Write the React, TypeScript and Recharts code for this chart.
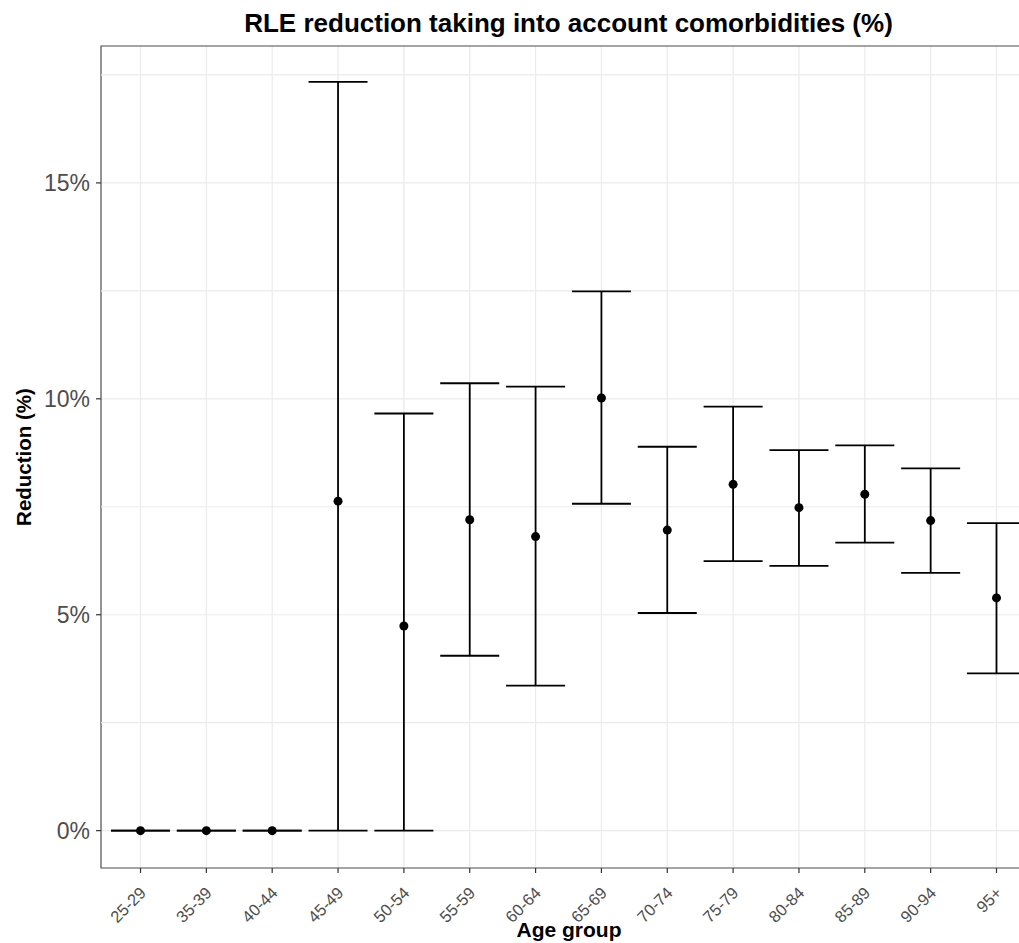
import React from 'react';
import {
  ComposedChart,
  Line,
  XAxis,
  YAxis,
  CartesianGrid,
  ErrorBar,
  ReferenceLine,
  ReferenceArea,
} from 'recharts';

const ageGroups = ['25-29', '35-39', '40-44', '45-49', '50-54', '55-59', '60-64', '65-69', '70-74', '75-79', '80-84', '85-89', '90-94', '95+'];
const estimate = [0, 0, 0, 7.63, 4.74, 7.2, 6.81, 10.02, 6.96, 8.02, 7.48, 7.79, 7.18, 5.39];
const lower = [0, 0, 0, 0, 0, 4.05, 3.36, 7.57, 5.04, 6.24, 6.13, 6.67, 5.97, 3.64];
const upper = [0, 0, 0, 17.34, 9.66, 10.36, 10.28, 12.49, 8.89, 9.82, 8.81, 8.92, 8.39, 7.12];
const yTicks = [0, 5, 10, 15];
const yMinorTicks = [2.5, 7.5, 12.5, 17.5];

const rows = ageGroups.map((g, i) => ({
  idx: i,
  group: g,
  value: estimate[i],
  err: [estimate[i] - lower[i], upper[i] - estimate[i]],
}));

const Y_MIN = -0.865;
const Y_MAX = 18.17;
const X_MIN = -0.6;
const X_MAX = ageGroups.length - 1 + 0.6;
const FONT = '"Liberation Sans", Arial, Helvetica, sans-serif';

const XTick = (props: any) => {
  const { x, y, payload } = props;
  const label = ageGroups[payload.value] ?? '';
  const ax = x + 6.5;
  const ay = y + 19;
  return (
    <text
      x={ax}
      y={ay}
      textAnchor="end"
      transform={`rotate(-45, ${ax}, ${ay})`}
      fontSize={16.5}
      fontFamily={FONT}
      fill="#4d4d4d"
    >
      {label}
    </text>
  );
};

export default function App() {
  return (
    <div
      style={{
        position: 'fixed',
        left: 0,
        top: 0,
        width: 1019,
        height: 943,
        overflow: 'hidden',
        background: '#fff',
      }}
    >
      <ComposedChart
        width={1060}
        height={943}
        data={rows}
        margin={{ top: 46, right: 24, bottom: 0, left: 0 }}
      >
        <CartesianGrid stroke="#ebebeb" strokeWidth={1.2} />
        {yMinorTicks.map((v) => (
          <ReferenceLine key={v} y={v} stroke="#ebebeb" strokeWidth={1.2} ifOverflow="visible" />
        ))}
        <XAxis
          type="number"
          dataKey="idx"
          domain={[X_MIN, X_MAX]}
          ticks={ageGroups.map((_, i) => i)}
          interval={0}
          allowDataOverflow
          axisLine={false}
          tickLine={{ stroke: '#333', strokeWidth: 1.2 }}
          tickSize={5}
          tickMargin={2}
          height={75}
          tick={<XTick />}
        />
        <YAxis
          type="number"
          domain={[Y_MIN, Y_MAX]}
          ticks={yTicks}
          allowDataOverflow
          width={101}
          axisLine={false}
          tickLine={{ stroke: '#333', strokeWidth: 1.2 }}
          tickSize={5}
          tickMargin={6}
          tickFormatter={(v: number) => `${v}%`}
          tick={{ fontSize: 23, fill: '#4d4d4d', fontFamily: FONT }}
        />
        <ReferenceArea
          x1={X_MIN}
          x2={X_MAX}
          y1={Y_MIN}
          y2={Y_MAX}
          fill="none"
          fillOpacity={0}
          stroke="#555"
          strokeWidth={1.2}
          ifOverflow="visible"
        />
        <Line
          dataKey="value"
          stroke="none"
          isAnimationActive={false}
          dot={{ r: 4.5, fill: '#000', stroke: 'none' }}
          activeDot={false}
        >
          <ErrorBar dataKey="err" direction="y" width={29.5} stroke="#000" strokeWidth={1.8} />
        </Line>
      </ComposedChart>
      <svg
        width={1019}
        height={943}
        style={{ position: 'absolute', left: 0, top: 0, pointerEvents: 'none' }}
      >
        <text
          x={568.5}
          y={32}
          textAnchor="middle"
          fontSize={26}
          fontWeight="bold"
          fontFamily={FONT}
          fill="#000"
        >
          RLE reduction taking into account comorbidities (%)
        </text>
        <text
          x={569}
          y={937}
          textAnchor="middle"
          fontSize={21}
          fontWeight="bold"
          fontFamily={FONT}
          fill="#000"
        >
          Age group
        </text>
        <text
          x={31}
          y={457}
          textAnchor="middle"
          transform="rotate(-90, 31, 457)"
          fontSize={20.5}
          fontWeight="bold"
          fontFamily={FONT}
          fill="#000"
        >
          Reduction (%)
        </text>
      </svg>
    </div>
  );
}
